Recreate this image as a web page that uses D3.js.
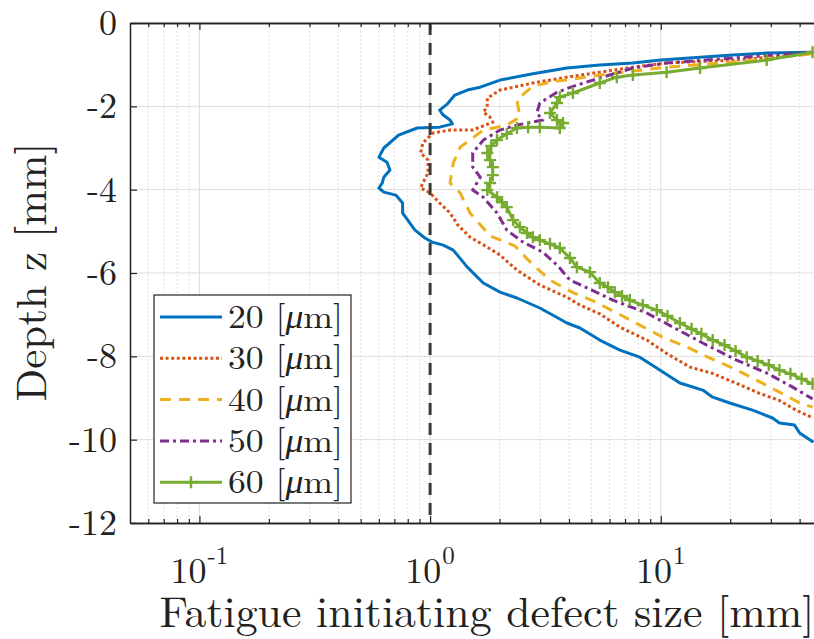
<!DOCTYPE html>
<html>
<head>
<meta charset="utf-8">
<script src="https://cdn.jsdelivr.net/npm/d3@7"></script>
<style>
  body { margin: 0; background: #fff; }
  svg { display: block; font-family: "Latin Modern Roman", "Liberation Serif", serif; }
</style>
</head>
<body>
<svg id="chart" width="814" height="639"></svg>
<script>
// axis ticks
const xMajor = [0.1, 1, 10];
const xExp = ['-1', '0', '1'];
const xMinor = [0.06, 0.07, 0.08, 0.09, 0.2, 0.3, 0.4, 0.5, 0.6, 0.7, 0.8, 0.9,
  2, 3, 4, 5, 6, 7, 8, 9, 20, 30, 40];
const yTicks = [0, -2, -4, -6, -8, -10, -12];

// legend labels (defect size in micrometre)
const sizesUm = ['20', '30', '40', '50', '60'];

// [defect size mm, depth z mm]
const s20 = [[45.5,-0.70],[28.8,-0.72],[20.5,-0.77],[14.8,-0.82],[10.0,-0.89],[7.57,-0.96],[5.44,-1.01],
  [3.92,-1.08],[2.79,-1.22],[2.01,-1.37],[1.65,-1.54],[1.45,-1.61],[1.28,-1.73],[1.19,-1.94],[1.10,-2.09],
  [1.14,-2.21],[1.22,-2.33],[1.25,-2.42],[1.10,-2.50],[0.88,-2.52],[0.73,-2.69],[0.63,-3.00],[0.60,-3.22],
  [0.65,-3.34],[0.67,-3.53],[0.63,-3.70],[0.62,-3.84],[0.60,-3.96],[0.63,-4.06],[0.71,-4.13],[0.76,-4.32],
  [0.76,-4.56],[0.80,-4.73],[0.86,-4.97],[0.95,-5.16],[1.02,-5.26],[1.14,-5.33],[1.26,-5.45],[1.45,-5.86],
  [1.70,-6.24],[2.01,-6.46],[2.38,-6.60],[2.99,-6.84],[3.92,-7.20],[4.46,-7.32],[5.44,-7.61],[6.65,-7.85],
  [8.11,-8.02],[9.9,-8.33],[12.1,-8.64],[15.2,-8.81],[16.8,-8.98],[19.9,-9.12],[25.0,-9.29],[30.5,-9.48],
  [32.7,-9.60],[38.0,-9.65],[40.0,-9.84],[45.9,-10.06]];
const s30 = [[45.5,-0.72],[40.0,-0.77],[20.5,-0.89],[10.6,-0.96],[7.57,-1.06],[5.44,-1.18],[3.92,-1.30],
  [2.79,-1.44],[2.01,-1.61],[1.77,-1.80],[1.77,-2.02],[1.70,-2.14],[1.82,-2.26],[1.87,-2.38],[1.53,-2.57],
  [1.22,-2.57],[1.03,-2.64],[0.93,-2.88],[0.91,-3.12],[0.98,-3.29],[0.98,-3.60],[0.93,-3.84],[0.91,-3.96],
  [1.00,-4.08],[1.10,-4.32],[1.22,-4.56],[1.32,-4.85],[1.49,-5.14],[1.77,-5.38],[2.01,-5.57],[2.38,-5.93],
  [2.99,-6.29],[3.92,-6.58],[4.46,-6.77],[5.44,-6.98],[6.65,-7.30],[8.70,-7.61],[10.6,-7.93],[13.4,-8.26],
  [16.8,-8.41],[21.3,-8.65],[26.8,-8.89],[32.7,-9.06],[38.8,-9.30],[45.5,-9.47]];
const s40 = [[45.5,-0.74],[20.5,-0.94],[10.6,-1.06],[5.44,-1.25],[4.46,-1.32],[3.58,-1.39],[2.79,-1.51],
  [2.38,-1.85],[2.45,-2.26],[2.15,-2.45],[1.70,-2.57],[1.35,-2.98],[1.26,-3.36],[1.22,-3.84],[1.35,-4.08],
  [1.49,-4.56],[1.82,-5.11],[2.33,-5.35],[2.74,-5.76],[3.31,-6.17],[4.12,-6.46],[5.23,-6.70],[6.45,-6.96],
  [8.11,-7.25],[10.2,-7.54],[13.0,-7.78],[16.3,-8.04],[20.5,-8.28],[26.0,-8.57],[32.7,-8.86],[40.0,-9.12],
  [45.5,-9.22]];
const s50 = [[45.5,-0.70],[20.5,-0.84],[10.6,-0.96],[7.57,-1.08],[5.44,-1.32],[4.33,-1.49],[3.55,-1.66],
  [2.99,-1.92],[2.90,-2.16],[3.08,-2.33],[2.38,-2.45],[2.01,-2.57],[1.70,-2.81],[1.53,-3.12],[1.53,-3.46],
  [1.65,-3.70],[1.53,-4.01],[1.70,-4.18],[1.95,-4.56],[2.15,-4.97],[2.53,-5.26],[3.08,-5.50],[3.58,-5.83],
  [4.04,-6.17],[5.03,-6.41],[6.20,-6.65],[8.70,-6.96],[11.3,-7.30],[15.2,-7.68],[21.3,-8.09],[28.8,-8.40],
  [37.3,-8.74],[45.5,-9.02]];
const s60 = [[45.5,-0.70],[28.8,-0.89],[14.8,-1.08],[10.6,-1.18],[7.57,-1.25],[6.45,-1.30],[5.44,-1.44],
  [4.16,-1.68],[3.65,-1.78],[3.55,-1.92],[3.31,-2.16],[3.55,-2.33],[3.77,-2.40],[3.65,-2.52],[2.99,-2.50],
  [2.66,-2.50],[2.38,-2.52],[2.15,-2.66],[1.95,-2.81],[1.84,-2.95],[1.77,-3.12],[1.82,-3.29],[1.87,-3.46],
  [1.87,-3.65],[1.82,-3.84],[1.77,-4.01],[1.95,-4.18],[2.05,-4.30],[2.15,-4.42],[2.29,-4.73],[2.45,-4.90],
  [2.63,-5.04],[2.79,-5.14],[2.99,-5.21],[3.31,-5.30],[3.65,-5.40],[4.04,-5.64],[4.33,-5.86],[4.93,-5.98],
  [5.44,-6.24],[5.90,-6.34],[6.32,-6.46],[6.79,-6.55],[7.34,-6.65],[8.36,-6.77],[9.61,-6.89],[10.7,-7.03],
  [12.1,-7.20],[13.6,-7.34],[15.0,-7.46],[16.8,-7.61],[18.9,-7.73],[21.1,-7.87],[23.6,-8.02],[26.3,-8.11],
  [29.4,-8.21],[32.7,-8.33],[36.5,-8.42],[40.8,-8.54],[45.5,-8.66]];

const limitSize = 1; // vertical reference line

const series = [
  {data: s20, color: '#0072BD', dash: null},
  {data: s30, color: '#D95319', dash: '3,2.6'},
  {data: s40, color: '#EDB120', dash: '11,8'},
  {data: s50, color: '#7E2F8E', dash: '9,4,3,4'},
  {data: s60, color: '#77AC30', dash: null, marker: true}
];

const svg = d3.select('#chart');
const pLeft = 130, pTop = 23, pBottom = 523, pRight = 822;
const font = '"Latin Modern Roman", "Liberation Serif", serif';
const ink = '#222';

const x = d3.scaleLog().domain([0.05, 50]).range([pLeft, pRight]);
const y = d3.scaleLinear().domain([-12, 0]).range([pBottom, pTop]);

// grid
const grid = svg.append('g');
grid.selectAll('line.minor').data(xMinor).enter().append('line')
    .attr('x1', d => x(d)).attr('x2', d => x(d))
    .attr('y1', pTop).attr('y2', pBottom)
    .attr('stroke', '#d4d4d4').attr('stroke-width', 1).attr('stroke-dasharray', '1.5,2.5');
grid.selectAll('line.major').data(xMajor).enter().append('line')
    .attr('x1', d => x(d)).attr('x2', d => x(d))
    .attr('y1', pTop).attr('y2', pBottom)
    .attr('stroke', '#dedede').attr('stroke-width', 1);
grid.selectAll('line.hy').data(yTicks).enter().append('line')
    .attr('x1', pLeft).attr('x2', pRight)
    .attr('y1', d => y(d)).attr('y2', d => y(d))
    .attr('stroke', '#dedede').attr('stroke-width', 1);

// curves
const line = d3.line().x(d => x(d[0])).y(d => y(d[1]));
const plot = svg.append('g');
series.forEach(s => {
  plot.append('path')
      .datum(s.data)
      .attr('d', line)
      .attr('fill', 'none')
      .attr('stroke', s.color)
      .attr('stroke-width', 3)
      .attr('stroke-linejoin', 'round')
      .attr('stroke-dasharray', s.dash);
  if (s.marker) {
    plot.selectAll(null).data(s.data).enter().append('path')
        .attr('d', d => `M${x(d[0]) - 6},${y(d[1])}h12M${x(d[0])},${y(d[1]) - 6}v12`)
        .attr('stroke', s.color).attr('stroke-width', 2.4);
  }
});

// reference line at size = 1 mm
svg.append('line')
    .attr('x1', x(limitSize)).attr('x2', x(limitSize))
    .attr('y1', pTop).attr('y2', pBottom)
    .attr('stroke', '#3a3a3a').attr('stroke-width', 3).attr('stroke-dasharray', '12,8');

// axes with inward ticks
function styleAxis(g) {
  g.select('.domain').attr('stroke', ink).attr('stroke-width', 1.5);
  g.selectAll('.tick line').attr('stroke', ink).attr('stroke-width', 1.2);
}
svg.append('g').attr('transform', `translate(0,${pBottom})`)
    .call(d3.axisBottom(x).tickValues(xMajor).tickSize(-7).tickSizeOuter(0).tickFormat(''))
    .call(styleAxis);
svg.append('g').attr('transform', `translate(0,${pBottom})`)
    .call(d3.axisBottom(x).tickValues(xMinor).tickSize(-4).tickSizeOuter(0).tickFormat(''))
    .call(styleAxis);
svg.append('g').attr('transform', `translate(0,${pTop})`)
    .call(d3.axisTop(x).tickValues(xMajor).tickSize(-7).tickSizeOuter(0).tickFormat(''))
    .call(styleAxis);
svg.append('g').attr('transform', `translate(0,${pTop})`)
    .call(d3.axisTop(x).tickValues(xMinor).tickSize(-4).tickSizeOuter(0).tickFormat(''))
    .call(styleAxis);
svg.append('g').attr('transform', `translate(${pLeft},0)`)
    .call(d3.axisLeft(y).tickValues(yTicks).tickSize(-7).tickSizeOuter(0).tickPadding(13).tickFormat(d => String(d)))
    .call(styleAxis)
    .call(g => g.selectAll('.tick text')
        .attr('font-family', font)
        .attr('font-size', 36).attr('fill', ink));

// x tick labels 10^n : base and exponent as separate texts, centred on the tick
const xl = svg.append('g').attr('fill', ink).attr('font-family', font);
xMajor.forEach((v, i) => {
  const base = xl.append('text').attr('y', 583).attr('font-size', 36).text('10');
  const sup = xl.append('text').attr('y', 564).attr('font-size', 25).text(xExp[i]);
  const wb = base.node().getComputedTextLength();
  const ws = sup.node().getComputedTextLength();
  const x0 = x(v) - (wb + ws + 1) / 2;
  base.attr('x', x0);
  sup.attr('x', x0 + wb + 1);
});

// axis titles
svg.append('text')
    .attr('x', 487).attr('y', 627)
    .attr('text-anchor', 'middle').attr('font-size', 43).attr('fill', ink)
    .attr('font-family', font)
    .attr('textLength', 655).attr('lengthAdjust', 'spacingAndGlyphs')
    .text('Fatigue initiating defect size [mm]');
svg.append('text')
    .attr('transform', 'translate(46,272) rotate(-90)')
    .attr('text-anchor', 'middle').attr('font-size', 43).attr('fill', ink)
    .attr('font-family', font)
    .attr('textLength', 259).attr('lengthAdjust', 'spacingAndGlyphs')
    .text('Depth z [mm]');

// legend
const lg = svg.append('g').attr('font-family', font);
lg.append('rect').attr('x', 154).attr('y', 295).attr('width', 197).attr('height', 208)
    .attr('fill', '#fff').attr('stroke', ink).attr('stroke-width', 1.2);
series.forEach((s, i) => {
  const cy = 317 + i * 41.3;
  lg.append('line').attr('x1', 160).attr('x2', 222).attr('y1', cy).attr('y2', cy)
      .attr('stroke', s.color).attr('stroke-width', 3).attr('stroke-dasharray', s.dash);
  if (s.marker) {
    lg.append('path').attr('d', `M185,${cy}h12M191,${cy - 6}v12`)
        .attr('stroke', s.color).attr('stroke-width', 2.4);
  }
  const t = lg.append('text').attr('x', 228).attr('y', cy + 11)
      .attr('font-size', 33).attr('fill', ink)
      .attr('textLength', 115).attr('lengthAdjust', 'spacingAndGlyphs');
  t.append('tspan').text(sizesUm[i] + ' [');
  t.append('tspan').attr('font-style', 'italic').text('\u03bc');
  t.append('tspan').text('m]');
});
</script>
</body>
</html>
